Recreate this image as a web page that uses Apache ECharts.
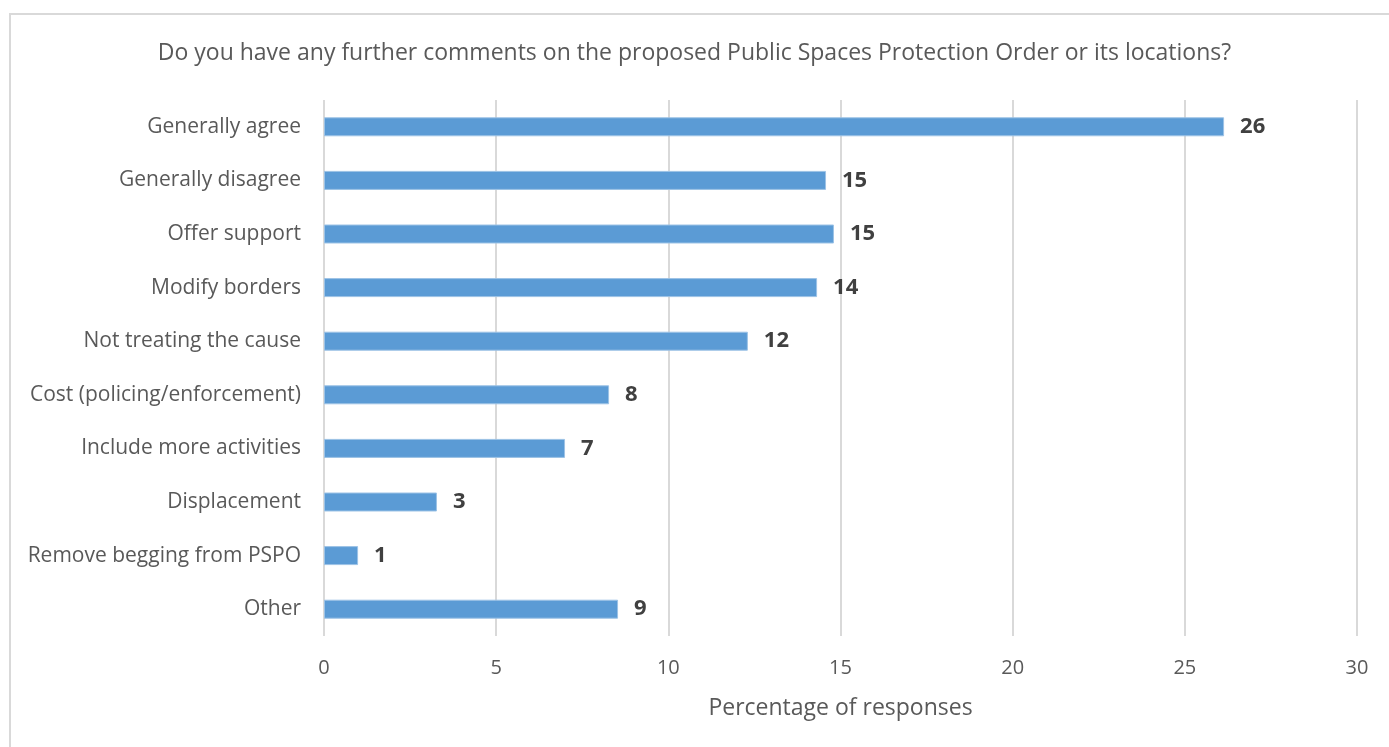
<!DOCTYPE html>
<html>
<head>
<meta charset="utf-8">
<script src="https://cdn.jsdelivr.net/npm/echarts@6/dist/echarts.min.js"></script>
<style>
html,body{margin:0;padding:0;background:#fff;}
#frame{position:absolute;left:9px;top:13px;width:1400px;height:760px;border:2px solid #d9d9d9;box-sizing:border-box;}
#chart{position:absolute;left:0;top:0;width:1389px;height:747px;}
</style>
</head>
<body>
<div id="frame"></div>
<div id="chart"></div>
<script>
const titleText = 'Do you have any further comments on the proposed Public Spaces Protection Order or its locations?';
const categories = ['Generally agree','Generally disagree','Offer support','Modify borders','Not treating the cause','Cost (policing/enforcement)','Include more activities','Displacement','Remove begging from PSPO','Other'];
const values = [26.14, 14.58, 14.81, 14.32, 12.31, 8.28, 7.0, 3.28, 0.99, 8.54];
const xAxisName = 'Percentage of responses';

const chart = echarts.init(document.getElementById('chart'), null, {renderer:'canvas'});
chart.setOption({
  backgroundColor: 'transparent',
  animation: false,
  title: {
    text: titleText, left: 'center', top: 37,
    textStyle: {fontFamily: 'Open Sans', fontSize: 23, fontWeight: 'normal', color: '#595959'}
  },
  grid: {left: 324, right: 32, top: 100, bottom: 111, containLabel: false},
  xAxis: {
    type: 'value', min: 0, max: 30, interval: 5,
    name: xAxisName, nameLocation: 'middle', nameGap: 61,
    nameTextStyle: {fontFamily: 'Open Sans', fontSize: 23, color: '#595959'},
    axisLine: {show: false}, axisTick: {show: false},
    axisLabel: {fontFamily: 'Open Sans', fontSize: 20, color: '#595959', margin: 22},
    splitLine: {lineStyle: {color: '#d9d9d9', width: 2}}
  },
  yAxis: {
    type: 'category', data: categories, inverse: true,
    axisLine: {show: false}, axisTick: {show: false},
    axisLabel: {fontFamily: 'Open Sans', fontSize: 21, color: '#595959', margin: 23, padding: [3, 0, 0, 0]}
  },
  series: [{
    type: 'bar', data: values, barWidth: 19,
    itemStyle: {color: '#5b9bd5', borderColor: '#9dc3e6', borderWidth: 1},
    label: {
      show: true, position: 'right', distance: 16,
      formatter: p => Math.round(p.value),
      fontFamily: 'Open Sans', fontSize: 22, fontWeight: 'bold', color: '#404040'
    }
  }]
});
</script>
</body>
</html>
